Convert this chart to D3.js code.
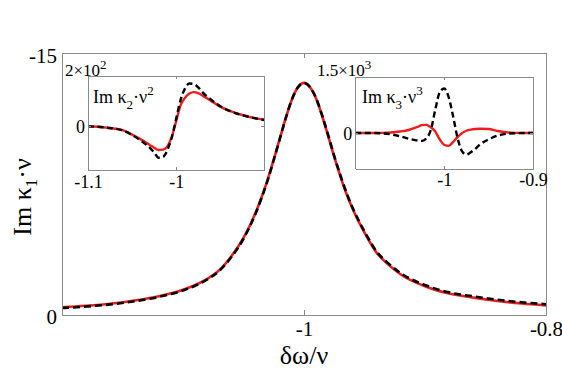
<!DOCTYPE html>
<html><head><meta charset="utf-8">
<script src="https://cdn.jsdelivr.net/npm/d3@7"></script>
<style>
html,body{margin:0;padding:0;background:#fff;}
svg, svg text{font-family:'Liberation Serif','Times New Roman','DejaVu Serif',serif;}
</style></head><body>
<svg id="c" width="562" height="381"></svg>
<script>
// ---- data ----
const mainX = [-1.2,-1.18,-1.16,-1.14,-1.12,-1.1,-1.08,-1.07,-1.06,-1.05,-1.04,-1.035,-1.03,-1.025,-1.02,-1.015,-1.01,-1.005,-1.0,-0.995,-0.99,-0.985,-0.98,-0.975,-0.97,-0.965,-0.96,-0.95,-0.94,-0.93,-0.92,-0.9,-0.88,-0.86,-0.84,-0.82,-0.8];
const mainRed = [-0.41,-0.50,-0.62,-0.80,-1.05,-1.42,-2.05,-2.55,-3.35,-4.40,-5.85,-6.75,-7.75,-8.90,-10.10,-11.30,-12.35,-13.05,-13.30,-13.05,-12.40,-11.40,-10.25,-9.05,-7.95,-6.95,-6.10,-4.70,-3.55,-2.85,-2.30,-1.62,-1.20,-0.97,-0.78,-0.63,-0.52];
const mainBlack = [-0.37,-0.46,-0.58,-0.76,-1.01,-1.38,-2.01,-2.51,-3.30,-4.35,-5.80,-6.70,-7.72,-8.88,-10.08,-11.29,-12.35,-13.05,-13.30,-13.06,-12.42,-11.43,-10.30,-9.10,-8.01,-7.01,-6.16,-4.77,-3.62,-2.92,-2.37,-1.69,-1.27,-1.04,-0.85,-0.70,-0.59];

const k2X = [-1.1,-1.08,-1.06,-1.05,-1.04,-1.03,-1.025,-1.02,-1.015,-1.01,-1.005,-1.0,-0.995,-0.99,-0.985,-0.98,-0.975,-0.97,-0.96,-0.95,-0.94,-0.92,-0.9];
const k2Red = [0,-5,-16,-33,-52,-74,-85,-94,-93,-80,-42,20,83,113,130,136,132,122,100,78,62,40,26];
const k2Black = [0,-5,-17,-35,-57,-85,-104,-125,-122,-95,-45,30,105,150,170,168,155,135,105,80,62,40,25];

const k3X = [-1.1,-1.08,-1.07,-1.06,-1.05,-1.04,-1.03,-1.025,-1.02,-1.015,-1.01,-1.005,-1.0,-0.995,-0.99,-0.985,-0.98,-0.975,-0.97,-0.965,-0.96,-0.95,-0.94,-0.93,-0.92,-0.9];
const k3Red = [0,0,3,15,40,80,160,210,215,150,40,-170,-310,-340,-240,-110,-5,60,92,108,112,105,55,20,5,0];
const k3Black = [0,0,-10,-35,-85,-150,-200,-210,-140,80,620,1080,1180,960,450,-120,-480,-570,-510,-420,-310,-170,-70,-20,-5,0];

const mainXTicks = [-1, -0.8];
const mainXTickLabels = ["-1", "-0.8"];
const mainYTicks = [0, -15];
const mainYTickLabels = ["0", "-15"];
const in1XTicks = [-1.1, -1];
const in1XTickLabels = ["-1.1", "-1"];
const in2XTicks = [-1, -0.9];
const in2XTickLabels = ["-1", "-0.9"];
const inYTicks = [0];
const inYTickLabels = ["0"];

// ---- drawing ----
const FONT = "'Liberation Serif','Times New Roman','DejaVu Serif',serif";
const svg = d3.select("#c").attr("font-family", FONT);
const AXIS = "#8a8a8a";
const RED = "#ee1c1c";

function drawPanel(cfg) {
  const b = cfg.box;
  const x = d3.scaleLinear().domain(cfg.xDomain).range([b.left, b.right]);
  const y = d3.scaleLinear().domain(cfg.yDomain).range([b.bottom, b.top]);
  const g = svg.append("g");
  if (cfg.fill) g.append("rect").attr("x", b.left).attr("y", b.top)
      .attr("width", b.right - b.left).attr("height", b.bottom - b.top).attr("fill", "#fff");
  const cid = "clip" + Math.round(b.left);
  svg.append("clipPath").attr("id", cid).append("rect")
     .attr("x", b.left).attr("y", b.top - 2).attr("width", b.right - b.left).attr("height", b.bottom - b.top + 4);
  const line = (xs) => d3.line().x((d, i) => x(xs[i])).y(d => y(d)).curve(d3.curveMonotoneX);
  const cg = g.append("g").attr("clip-path", `url(#${cid})`);
  cg.append("path").attr("d", line(cfg.xs)(cfg.red)).attr("fill", "none")
    .attr("stroke", RED).attr("stroke-width", cfg.lw);
  cg.append("path").attr("d", line(cfg.xs)(cfg.black)).attr("fill", "none")
    .attr("stroke", "#000").attr("stroke-width", cfg.lw).attr("stroke-dasharray", cfg.dash);

  const fs = cfg.fontSize;
  const style = (sel) => {
    sel.attr("font-family", FONT).attr("font-size", fs);
    sel.selectAll(".domain").attr("stroke", AXIS).attr("shape-rendering", "crispEdges");
    sel.selectAll(".tick line").attr("stroke", AXIS).attr("shape-rendering", "crispEdges");
    sel.selectAll("text").attr("fill", "#000").attr("font-family", FONT).attr("font-size", fs);
  };
  g.append("g").attr("transform", `translate(0,${b.bottom})`)
    .call(d3.axisBottom(x).tickValues(cfg.xTicks).tickFormat((d, i) => cfg.xLabels[i])
      .tickSizeInner(-cfg.tick).tickSizeOuter(0).tickPadding(cfg.xPad)).call(style);
  g.append("g").attr("transform", `translate(0,${b.top})`)
    .call(d3.axisTop(x).tickValues(cfg.xTicks).tickFormat("")
      .tickSizeInner(-cfg.tick).tickSizeOuter(0)).call(style);
  const yl = g.append("g").attr("transform", `translate(${b.left},0)`)
    .call(d3.axisLeft(y).tickValues(cfg.yTicks).tickFormat((d, i) => cfg.yLabels[i])
      .tickSizeInner(-cfg.tick).tickSizeOuter(0).tickPadding(cfg.yPad)).call(style);
  yl.selectAll("text").attr("dy", cfg.yDy);
  g.append("g").attr("transform", `translate(${b.right},0)`)
    .call(d3.axisRight(y).tickValues(cfg.yTicks).tickFormat("")
      .tickSizeInner(-cfg.tick).tickSizeOuter(0)).call(style);
  return {x, y, g};
}

// main
drawPanel({
  box: {left: 62, right: 546, top: 53.3, bottom: 314.5},
  xDomain: [-1.2, -0.8], yDomain: [0, -15],
  xs: mainX, red: mainRed, black: mainBlack,
  lw: 2.6, dash: "7,4", tick: 5, fontSize: 21,
  xTicks: mainXTicks, xLabels: mainXTickLabels, xPad: 7,
  yTicks: mainYTicks, yLabels: mainYTickLabels, yPad: 5, yDy: "0.45em"
});

// inset 1
drawPanel({
  box: {left: 88, right: 264.3, top: 76, bottom: 170.3}, fill: true,
  xDomain: [-1.1, -0.9], yDomain: [-175, 200],
  xs: k2X, red: k2Red, black: k2Black,
  lw: 2.4, dash: "6,3.5", tick: 3, fontSize: 18,
  xTicks: in1XTicks, xLabels: in1XTickLabels, xPad: 5,
  yTicks: inYTicks, yLabels: inYTickLabels, yPad: 3, yDy: "0.35em"
});

// inset 2
drawPanel({
  box: {left: 355.3, right: 533, top: 76.5, bottom: 168.7}, fill: true,
  xDomain: [-1.1, -0.9], yDomain: [-947, 1500],
  xs: k3X, red: k3Red, black: k3Black,
  lw: 2.4, dash: "6,3.5", tick: 3, fontSize: 18,
  xTicks: in2XTicks, xLabels: in2XTickLabels, xPad: 5,
  yTicks: inYTicks, yLabels: inYTickLabels, yPad: 3, yDy: "0.35em"
});

// text labels
function rich(sel, parts) {
  sel.attr("font-family", FONT);
  parts.forEach(p => {
    const t = sel.append("tspan").text(p.t);
    if (p.dy) t.attr("dy", p.dy);
    if (p.fs) t.attr("font-size", p.fs);
  });
  return sel;
}
// x label
rich(svg.append("text").attr("x", 304).attr("y", 364).attr("text-anchor", "middle")
   .attr("font-size", 26), [{t: "δω/ν"}]);
// y label
rich(svg.append("text").attr("transform", "translate(31,197) rotate(-90)")
   .attr("text-anchor", "middle").attr("font-size", 26),
   [{t: "Im κ"}, {t: "1", dy: 6, fs: 17}, {t: "·ν", dy: -6}]);
// exponent labels
rich(svg.append("text").attr("x", 65).attr("y", 76).attr("font-size", 17),
   [{t: "2×10"}, {t: "2", dy: -7, fs: 13}]);
rich(svg.append("text").attr("x", 317).attr("y", 76).attr("font-size", 17),
   [{t: "1.5×10"}, {t: "3", dy: -7, fs: 13}]);
// inset titles
rich(svg.append("text").attr("x", 93).attr("y", 103).attr("font-size", 18),
   [{t: "Im κ"}, {t: "2", dy: 6, fs: 13}, {t: "·ν", dy: -6}, {t: "2", dy: -8, fs: 13}]);
rich(svg.append("text").attr("x", 362).attr("y", 103).attr("font-size", 18),
   [{t: "Im κ"}, {t: "3", dy: 6, fs: 13}, {t: "·ν", dy: -6}, {t: "3", dy: -8, fs: 13}]);
</script>
</body></html>
